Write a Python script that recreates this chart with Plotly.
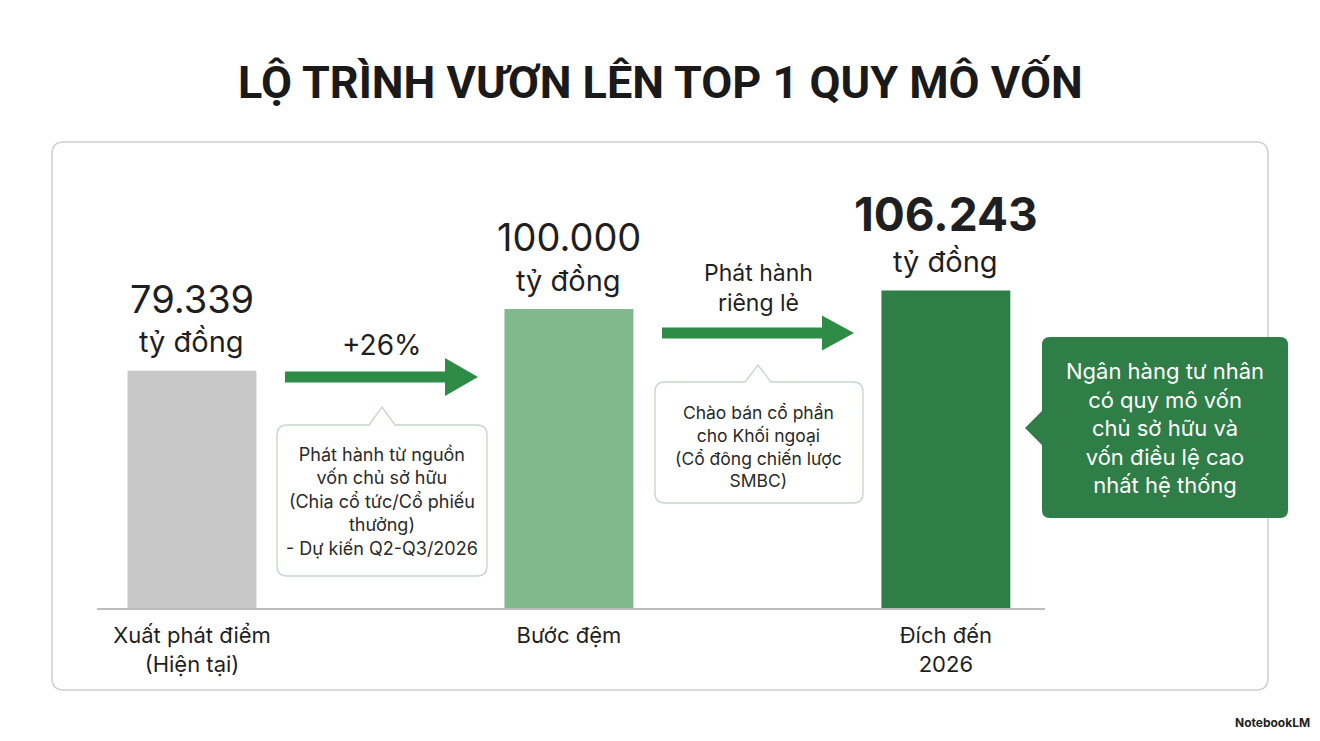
import plotly.graph_objects as go

W, H = 1320, 741

# ---- data ----
categories = ["Xuất phát điểm<br>(Hiện tại)", "Bước đệm", "Đích đến<br>2026"]
values = [79339, 100000, 106243]
value_labels = ["79.339", "100.000", "106.243"]
unit_label = "tỷ đồng"
bar_colors = ["#c8c8c8", "#80b98b", "#2f7d47"]
step_labels = ["+26%", "Phát hành<br>riêng lẻ"]
callout_texts = [
    "Phát hành từ nguồn<br>vốn chủ sở hữu<br>(Chia cổ tức/Cổ phiếu<br>thưởng)<br>- Dự kiến Q2-Q3/2026",
    "Chào bán cổ phần<br>cho Khối ngoại<br>(Cổ đông chiến lược<br>SMBC)",
    "Ngân hàng tư nhân<br>có quy mô vốn<br>chủ sở hữu và<br>vốn điều lệ cao<br>nhất hệ thống",
]
title = "LỘ TRÌNH VƯƠN LÊN TOP 1 QUY MÔ VỐN"

GREEN = "#2f8c47"
DARK = "#1f1f1f"
FONT = "Inter, Roboto, sans-serif"


def px(x):
    return x / W


def py(y):
    return 1 - y / H


def P(x, y):
    return f"{px(x):.5f},{py(y):.5f}"


def bubble(x0, y0, x1, y1, r, pointer=None):
    d = f"M{P(x0 + r, y0)}"
    if pointer and pointer[0] == "top":
        _, cx, tip, h = pointer
        d += f" L{P(cx - h, y0)} L{P(cx, tip)} L{P(cx + h, y0)}"
    d += f" L{P(x1 - r, y0)} Q{P(x1, y0)} {P(x1, y0 + r)}"
    d += f" L{P(x1, y1 - r)} Q{P(x1, y1)} {P(x1 - r, y1)}"
    d += f" L{P(x0 + r, y1)} Q{P(x0, y1)} {P(x0, y1 - r)}"
    if pointer and pointer[0] == "left":
        _, cy, tip, h = pointer
        d += f" L{P(x0, cy + h)} L{P(tip, cy)} L{P(x0, cy - h)}"
    d += f" L{P(x0, y0 + r)} Q{P(x0, y0)} {P(x0 + r, y0)} Z"
    return d


def arrow(x0, xh, x1, yc, t, hh):
    return (f"M{P(x0, yc - t)} L{P(xh, yc - t)} L{P(xh, yc - hh)} L{P(x1, yc)} "
            f"L{P(xh, yc + hh)} L{P(xh, yc + t)} L{P(x0, yc + t)} Z")


# plot area in pixels
X0, X1 = 97, 1045
Y_BASE, Y_TOP = 608, 142
k = 0.0029895  # px per unit
ymax = (Y_BASE - Y_TOP) / k

fig = go.Figure()
fig.add_trace(go.Bar(
    x=[0, 1, 2], y=values, width=0.342,
    marker=dict(color=bar_colors, line=dict(width=0)),
    hoverinfo="skip",
))

shapes = []
shapes.append(dict(type="path", xref="paper", yref="paper",
                   path=bubble(52, 142, 1268, 690, 12),
                   line=dict(color="#cfcfcf", width=1.5), fillcolor="rgba(0,0,0,0)", layer="below"))
shapes.append(dict(type="path", xref="paper", yref="paper",
                   path=arrow(285, 445, 478, 377, 5.5, 19), line=dict(width=0), fillcolor=GREEN))
shapes.append(dict(type="path", xref="paper", yref="paper",
                   path=arrow(662, 822, 854, 333, 5.5, 17.5), line=dict(width=0), fillcolor=GREEN))
shapes.append(dict(type="path", xref="paper", yref="paper",
                   path=bubble(277, 425, 487, 576, 10, ("top", 382, 407, 13)),
                   line=dict(color="#c6d6c8", width=1.3), fillcolor="white"))
shapes.append(dict(type="path", xref="paper", yref="paper",
                   path=bubble(655, 382, 863, 503, 10, ("top", 758, 365, 13)),
                   line=dict(color="#c6d6c8", width=1.3), fillcolor="white"))
shapes.append(dict(type="path", xref="paper", yref="paper",
                   path=bubble(1042, 337, 1288, 518, 8, ("left", 428, 1025, 17)),
                   line=dict(width=0), fillcolor="#2f7d47"))

ann = []


def note(x, y, text, size, color=DARK, family=FONT):
    ann.append(dict(x=px(x), y=py(y), xref="paper", yref="paper", text=text,
                    showarrow=False, xanchor="center", yanchor="middle", align="center",
                    font=dict(family=family, size=size, color=color)))


note(660, 82, f"<b>{title}</b>", 45, "#1a1a1a", "Roboto, Inter, sans-serif")

num_sizes = [38, 38, 46]
num_shift = [72, 72, 76]
for i, v in enumerate(values):
    txt = value_labels[i] if i < 2 else f"<b>{value_labels[i]}</b>"
    ann.append(dict(x=i, y=v, xref="x", yref="y", text=txt, showarrow=False,
                    yanchor="middle", xanchor="center", yshift=num_shift[i],
                    font=dict(family=FONT, size=num_sizes[i], color=DARK)))
    ann.append(dict(x=i, y=v, xref="x", yref="y", text=unit_label, showarrow=False,
                    yanchor="middle", xanchor="center", yshift=29,
                    font=dict(family=FONT, size=29, color=DARK)))

note(382, 345, step_labels[0], 28)
note(758, 288, step_labels[1], 23)
note(382, 501, callout_texts[0], 18, "#2a2a2a")
note(759, 446, callout_texts[1], 17.5, "#2a2a2a")
note(1165, 428, callout_texts[2], 22, "white")

ann.append(dict(x=px(1312), y=py(722), xref="paper", yref="paper", text="<b>NotebookLM</b>",
                showarrow=False, xanchor="right", yanchor="middle",
                font=dict(family=FONT, size=12, color="#222")))

fig.update_layout(
    width=W, height=H,
    margin=dict(l=0, r=0, t=0, b=0, autoexpand=False),
    paper_bgcolor="white", plot_bgcolor="rgba(0,0,0,0)",
    showlegend=False,
    shapes=shapes, annotations=ann,
    xaxis=dict(domain=[px(X0), px(X1)], range=[-0.252, 2.263],
               tickvals=[0, 1, 2], ticktext=categories,
               showgrid=False, zeroline=False, showline=True,
               linecolor="#bdbdbd", linewidth=1.5, ticks="",
               ticklabelstandoff=7, automargin=False,
               tickfont=dict(family=FONT, size=22, color=DARK)),
    yaxis=dict(domain=[py(Y_BASE), py(Y_TOP)], range=[0, ymax], visible=False),
)

fig.write_html("out.html", config={"displayModeBar": False},
               post_script="document.body.style.margin='0';document.body.style.padding='0';")
